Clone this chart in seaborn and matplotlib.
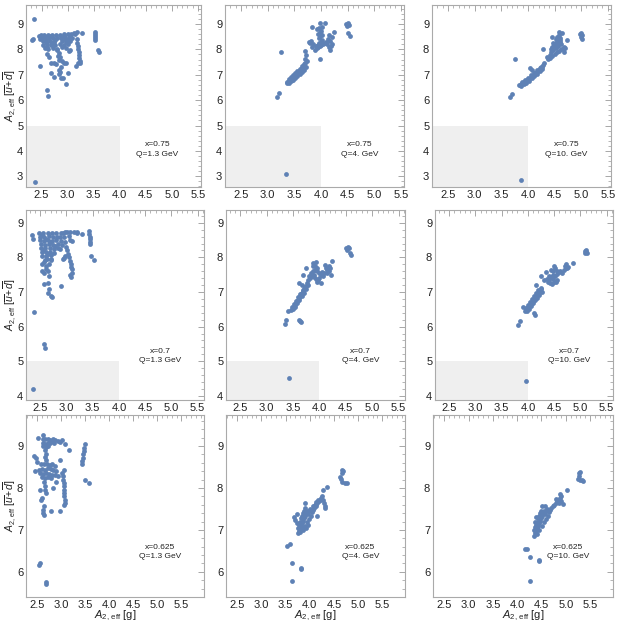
import pandas as pd
import seaborn as sns
import matplotlib.pyplot as plt
from matplotlib.patches import Rectangle
from matplotlib.ticker import MultipleLocator

# points: (A2,eff[g], A2,eff[ubar+dbar])
pts_075_13 = [
    (2.36, 9.20), (2.33, 8.40), (2.31, 8.37),
    (2.48, 8.58), (2.55, 8.58), (2.62, 8.58), (2.70, 8.58), (2.78, 8.58),
    (2.50, 8.45), (2.57, 8.47), (2.64, 8.44), (2.72, 8.46), (2.79, 8.45),
    (2.52, 8.32), (2.59, 8.30), (2.66, 8.33), (2.74, 8.31),
    (2.53, 8.18), (2.61, 8.20), (2.68, 8.17), (2.76, 8.19),
    (2.56, 8.05), (2.63, 8.02), (2.71, 8.06), (2.79, 8.00), (2.45, 8.52), (2.47, 8.40),
    (2.51, 8.52), (2.59, 8.38), (2.68, 8.52), (2.75, 8.39), (2.60, 8.10), (2.70, 8.25),
    (2.86, 8.58), (2.93, 8.59), (3.00, 8.60), (3.07, 8.60), (3.14, 8.62), (3.18, 8.68), (3.12, 8.66),
    (2.88, 8.46), (2.95, 8.47), (3.02, 8.45), (3.09, 8.44),
    (2.90, 8.33), (2.97, 8.30), (3.04, 8.34),
    (2.86, 8.20), (2.93, 8.18), (3.00, 8.22), (2.89, 8.08), (2.96, 8.04),
    (2.92, 8.52), (3.05, 8.53), (2.94, 8.40), (2.99, 8.38),
    (3.17, 8.40), (3.18, 8.26), (3.19, 8.14), (3.20, 8.02), (3.21, 7.90), (3.22, 7.78),
    (3.22, 7.66), (3.23, 7.55), (3.24, 7.45), (3.27, 8.63),
    (3.52, 8.67), (3.52, 8.60), (3.53, 8.53), (3.53, 8.46), (3.53, 8.38), (3.58, 7.98), (3.60, 7.88),
    (2.46, 7.33), (2.68, 7.07), (2.74, 6.93), (2.61, 6.41), (2.62, 6.18), (2.64, 7.70),
    (2.68, 7.46), (2.74, 7.46), (2.77, 7.43), (2.83, 7.20), (2.86, 7.13), (2.88, 6.87),
    (2.91, 6.86), (2.97, 6.65), (3.00, 7.07), (2.86, 7.72), (2.90, 7.56), (2.93, 7.46),
    (2.96, 7.46), (2.83, 7.59), (3.02, 7.92), (3.05, 7.98), (3.16, 7.33), (3.20, 7.46),
    (2.80, 7.98), (2.83, 7.85), (2.81, 7.75), (2.60, 7.80), (2.88, 7.30), (2.84, 7.05),
    (2.37, 2.78),
]
pts_075_4 = [
    (3.17, 6.12), (3.22, 6.29), (3.25, 7.89),
    (3.37, 6.68), (3.39, 6.72), (3.41, 6.76), (3.43, 6.80), (3.45, 6.84), (3.47, 6.88),
    (3.49, 6.92), (3.51, 6.96), (3.53, 7.00), (3.55, 7.04), (3.57, 7.08), (3.59, 7.12),
    (3.61, 7.17), (3.63, 7.22), (3.65, 7.28), (3.67, 7.34), (3.69, 7.40), (3.71, 7.47), (3.73, 7.53),
    (3.40, 6.68), (3.44, 6.75), (3.48, 6.80), (3.52, 6.87), (3.56, 6.94), (3.60, 7.02),
    (3.64, 7.10), (3.68, 7.20), (3.72, 7.30),
    (3.36, 6.72), (3.40, 6.82), (3.44, 6.90), (3.48, 6.98), (3.52, 7.06), (3.56, 7.14),
    (3.60, 7.24), (3.64, 7.34), (3.68, 7.44),
    (3.71, 7.62), (3.72, 7.78), (3.71, 7.93),
    (3.83, 8.09), (3.86, 8.20), (3.78, 8.30), (3.81, 8.35),
    (3.88, 7.98), (3.92, 8.05), (3.95, 8.10), (3.98, 8.14), (4.01, 8.18), (4.04, 8.22),
    (4.07, 8.26), (3.90, 8.12), (3.94, 8.18), (3.97, 8.24), (4.00, 8.30), (4.03, 8.36),
    (3.96, 8.45), (3.99, 8.52), (4.02, 8.56), (3.95, 8.62), (3.98, 8.68), (4.00, 8.74),
    (3.93, 8.80), (3.96, 8.86), (3.99, 9.05), (4.08, 9.03), (4.02, 8.89), (3.83, 8.89), (3.80, 8.25),
    (3.99, 7.63),
    (4.21, 8.49), (4.21, 8.23), (4.18, 7.96), (4.15, 8.09), (4.13, 8.40), (4.15, 8.55),
    (4.10, 8.30), (4.17, 8.35), (4.24, 8.69), (4.19, 8.15), (4.12, 8.20),
    (4.48, 9.00), (4.50, 9.03), (4.52, 8.98), (4.49, 8.92), (4.51, 8.63), (4.54, 8.52),
    (3.34, 3.08),
]
pts_075_10 = [
    (3.66, 6.12), (3.71, 6.25), (3.75, 7.61),
    (3.84, 6.58), (3.87, 6.62), (3.90, 6.66), (3.93, 6.70), (3.96, 6.75), (3.99, 6.80),
    (4.02, 6.85), (4.05, 6.90), (4.08, 6.95), (4.11, 7.00), (4.14, 7.06), (4.17, 7.12),
    (4.20, 7.18), (4.23, 7.25), (4.26, 7.32), (4.28, 7.40), (4.30, 7.48),
    (3.87, 6.56), (3.92, 6.62), (3.97, 6.69), (4.02, 6.77), (4.07, 6.86), (4.12, 6.95),
    (4.17, 7.04), (4.22, 7.14), (4.27, 7.24),
    (3.88, 6.70), (3.94, 6.78), (4.00, 6.88), (4.06, 6.98), (4.12, 7.08), (4.18, 7.20), (4.24, 7.30),
    (4.04, 7.26), (4.07, 7.19), (4.29, 8.00), (4.36, 7.72), (4.42, 7.78),
    (4.38, 7.62), (4.42, 7.68), (4.46, 7.75), (4.50, 7.82), (4.54, 7.88), (4.58, 7.95),
    (4.62, 8.02), (4.44, 7.90), (4.48, 7.98), (4.52, 8.05), (4.56, 8.12), (4.45, 8.10),
    (4.49, 8.18), (4.53, 8.25), (4.57, 8.30), (4.61, 8.36), (4.48, 8.24), (4.55, 8.31),
    (4.61, 8.31), (4.67, 8.11), (4.67, 7.91), (4.74, 8.37), (4.55, 8.50), (4.45, 8.50),
    (4.58, 8.67), (4.64, 8.63), (4.60, 8.45), (4.52, 8.40), (4.58, 8.58), (4.62, 8.20),
    (4.70, 8.05), (4.66, 8.00), (4.44, 8.00),
    (4.98, 8.62), (5.00, 8.64), (5.01, 8.58), (5.00, 8.50), (5.02, 8.42),
    (3.87, 2.87),
]
pts_07_13 = [
    (2.34, 8.66), (2.36, 8.52),
    (2.48, 8.70), (2.56, 8.71), (2.64, 8.70), (2.72, 8.71), (2.80, 8.70),
    (2.50, 8.60), (2.58, 8.58), (2.66, 8.61), (2.74, 8.59), (2.82, 8.60),
    (2.49, 8.49), (2.57, 8.48), (2.65, 8.50), (2.73, 8.47), (2.81, 8.49),
    (2.51, 8.38), (2.59, 8.36), (2.67, 8.39), (2.75, 8.37), (2.83, 8.38),
    (2.52, 8.27), (2.60, 8.26), (2.68, 8.28), (2.76, 8.25), (2.84, 8.27),
    (2.53, 8.16), (2.61, 8.15), (2.69, 8.17), (2.77, 8.14),
    (2.54, 8.05), (2.62, 8.04), (2.70, 8.06), (2.63, 7.95), (2.71, 7.96),
    (2.53, 8.64), (2.61, 8.54), (2.69, 8.44), (2.78, 8.32), (2.56, 8.21), (2.64, 8.10),
    (2.90, 8.71), (2.98, 8.72), (3.06, 8.73), (3.14, 8.74), (3.20, 8.72), (2.94, 8.70), (3.02, 8.74),
    (2.88, 8.60), (2.96, 8.58), (3.04, 8.62), (2.90, 8.48), (2.98, 8.45), (3.06, 8.50),
    (2.92, 8.35), (3.00, 8.30), (2.88, 8.25),
    (2.98, 8.04), (2.94, 7.95), (2.96, 7.98),
    (3.02, 8.20), (3.03, 8.10), (3.05, 8.00), (3.06, 7.90), (3.08, 7.80), (3.09, 7.72),
    (3.10, 7.66), (3.08, 7.42), (3.11, 7.56), (3.07, 7.48),
    (3.11, 8.47), (3.20, 8.71), (3.29, 8.69),
    (3.43, 8.76), (3.43, 8.68), (3.44, 8.60), (3.44, 8.52), (3.45, 8.45), (3.45, 8.38),
    (3.46, 8.04), (3.53, 7.93),
    (2.53, 7.61), (2.58, 7.56), (2.64, 7.61), (2.67, 7.47), (2.64, 7.26), (2.58, 7.22),
    (2.67, 7.08), (2.64, 6.97), (2.70, 6.89), (2.73, 6.85), (2.61, 7.66), (2.58, 7.87),
    (2.53, 7.80), (2.62, 7.75), (2.66, 7.82), (2.70, 7.92), (2.60, 7.92),
    (2.90, 7.18), (2.39, 6.41), (2.58, 5.50), (2.59, 5.39), (2.36, 4.19),
]
pts_07_4 = [
    (3.35, 6.07), (3.37, 6.19), (3.41, 6.45), (3.62, 6.19), (3.65, 6.12), (3.63, 6.15),
    (3.47, 6.48), (3.49, 6.53), (3.51, 6.58), (3.53, 6.63), (3.55, 6.68), (3.57, 6.73),
    (3.59, 6.78), (3.61, 6.83), (3.63, 6.88), (3.65, 6.93), (3.67, 6.98), (3.69, 7.03),
    (3.71, 7.08), (3.73, 7.13), (3.75, 7.18),
    (3.50, 6.50), (3.54, 6.58), (3.58, 6.68), (3.62, 6.78), (3.66, 6.88), (3.70, 6.98), (3.74, 7.08),
    (3.48, 6.56), (3.52, 6.65), (3.56, 6.75), (3.60, 6.85), (3.64, 6.95), (3.68, 7.05), (3.72, 7.15),
    (3.62, 7.25), (3.69, 7.50), (3.66, 7.20),
    (3.74, 7.69), (3.87, 7.74), (3.87, 7.83), (3.93, 7.86), (3.90, 7.50), (3.80, 7.45),
    (4.03, 7.25), (3.96, 7.30), (4.06, 7.45), (4.12, 7.70), (4.18, 7.76), (4.23, 7.90),
    (4.21, 7.50), (4.15, 7.64), (4.09, 7.54), (4.11, 7.79),
    (3.82, 7.40), (3.86, 7.45), (3.90, 7.42), (3.94, 7.38), (3.98, 7.35), (3.84, 7.55),
    (3.88, 7.60), (3.92, 7.65), (3.96, 7.70), (3.91, 7.75), (3.95, 7.60), (3.99, 7.55),
    (4.02, 7.50), (4.00, 7.40), (3.78, 7.35), (3.76, 7.25), (3.79, 7.20), (4.05, 7.58),
    (4.14, 7.55), (4.18, 7.62), (4.20, 7.68),
    (4.50, 8.27), (4.54, 8.31), (4.56, 8.27), (4.58, 8.12), (4.60, 8.07), (4.53, 8.22),
    (3.43, 4.51),
]
pts_07_10 = [
    (3.82, 6.04), (3.84, 6.16), (3.90, 6.57),
    (3.95, 6.46), (3.97, 6.50), (3.99, 6.54), (4.01, 6.58), (4.03, 6.62), (4.05, 6.66),
    (4.07, 6.70), (4.09, 6.74), (4.11, 6.78), (4.13, 6.82), (4.15, 6.86), (4.17, 6.90),
    (4.19, 6.94), (4.21, 6.98), (4.23, 7.03), (4.25, 7.08),
    (3.98, 6.45), (4.02, 6.52), (4.06, 6.60), (4.10, 6.68), (4.14, 6.76), (4.18, 6.84),
    (4.22, 6.92), (4.26, 7.00),
    (3.96, 6.55), (4.00, 6.63), (4.04, 6.71), (4.08, 6.80), (4.12, 6.88), (4.16, 6.96),
    (4.20, 7.05), (4.24, 7.12),
    (4.16, 7.20), (4.25, 7.45), (4.31, 7.35), (4.34, 7.59),
    (4.44, 7.64), (4.47, 7.50), (4.41, 7.35), (4.50, 7.74), (4.53, 7.30), (4.59, 7.59),
    (4.38, 7.28), (4.42, 7.25), (4.46, 7.22), (4.50, 7.28), (4.56, 7.36), (4.44, 7.42),
    (4.48, 7.38), (4.52, 7.45), (4.56, 7.52), (4.48, 7.62), (4.52, 7.68), (4.55, 7.60),
    (4.40, 7.45), (4.36, 7.38),
    (4.62, 7.60), (4.68, 7.65), (4.72, 7.70), (4.70, 7.75), (4.74, 7.68), (4.76, 7.72),
    (4.72, 7.81), (4.65, 7.55), (4.85, 7.83),
    (5.08, 8.18), (5.10, 8.20), (5.11, 8.15), (5.12, 8.12), (5.09, 8.14),
    (4.12, 6.38), (4.14, 6.35), (3.96, 4.42),
]
pts_0625_13 = [
    (2.43, 8.76), (2.47, 8.72), (2.45, 8.41), (2.50, 8.63), (2.52, 9.20), (2.62, 9.26),
    (2.62, 9.16), (2.67, 9.17), (2.72, 9.16), (2.77, 9.15), (2.62, 9.08), (2.67, 9.06),
    (2.72, 9.08), (2.77, 9.07), (2.63, 9.00), (2.68, 8.98), (2.73, 9.00), (2.78, 9.12),
    (2.83, 9.16), (2.88, 9.14), (2.93, 9.12), (2.98, 9.10), (3.02, 9.14), (3.09, 9.06),
    (3.16, 8.90), (2.85, 9.08),
    (2.58, 8.58), (2.64, 8.56), (2.70, 8.58), (2.76, 8.55), (2.82, 8.57), (2.88, 8.52),
    (2.60, 8.46), (2.66, 8.44), (2.72, 8.47), (2.78, 8.45), (2.84, 8.43), (2.90, 8.40),
    (2.57, 8.35), (2.63, 8.33), (2.69, 8.36), (2.75, 8.34), (2.81, 8.32), (2.87, 8.30),
    (2.93, 8.28), (2.60, 8.25), (2.66, 8.23), (2.72, 8.26), (2.78, 8.24), (2.55, 8.42),
    (2.66, 8.90), (2.68, 8.82), (2.66, 8.74), (2.69, 8.66),
    (2.65, 8.14), (2.66, 8.05), (2.67, 7.96), (2.68, 7.87),
    (2.57, 7.95), (2.60, 7.76), (2.59, 7.72), (2.64, 7.56), (2.62, 7.48), (2.64, 7.36), (2.62, 7.40),
    (2.98, 8.67), (3.05, 8.43),
    (3.02, 8.36), (3.03, 8.28), (3.04, 8.20), (3.05, 8.12), (3.06, 8.04), (3.06, 7.96),
    (3.07, 7.88), (3.07, 7.80), (3.08, 7.72), (3.08, 7.64), (3.07, 7.60),
    (2.98, 7.44), (2.78, 7.44),
    (3.43, 8.56), (3.44, 8.64), (3.45, 8.72), (3.46, 8.80), (3.47, 8.88), (3.48, 8.96),
    (3.49, 9.04), (3.49, 8.19), (3.57, 8.11),
    (2.84, 8.00), (2.89, 8.15),
    (2.53, 6.17), (2.57, 6.20), (2.69, 5.75), (2.69, 5.72),
]
pts_0625_4 = [
    (3.54, 6.62), (3.59, 6.67), (3.64, 6.20), (3.64, 5.78), (3.83, 6.07), (3.82, 6.09),
    (3.69, 7.24), (3.68, 7.31), (3.73, 7.16), (3.73, 7.38),
    (3.76, 6.92), (3.78, 6.98), (3.80, 7.04), (3.76, 7.05), (3.82, 7.10), (3.78, 7.12),
    (3.84, 7.16), (3.80, 7.20), (3.86, 7.22), (3.82, 7.28), (3.88, 7.28), (3.84, 7.34),
    (3.90, 7.34), (3.86, 7.40), (3.92, 7.40), (3.88, 7.46), (3.94, 7.46), (3.96, 7.38),
    (3.98, 7.44), (4.00, 7.50), (3.90, 7.10), (3.94, 7.18), (3.98, 7.26), (4.02, 7.34),
    (3.86, 7.00), (3.92, 7.05), (3.80, 6.95), (3.85, 7.08), (4.04, 7.42), (4.06, 7.48),
    (3.96, 7.12), (3.90, 7.52),
    (4.08, 7.52), (4.10, 7.56), (4.12, 7.58), (4.14, 7.62), (4.16, 7.64), (4.18, 7.68),
    (4.20, 7.70), (4.22, 7.72), (4.24, 7.75), (4.06, 7.56), (4.10, 7.60), (4.14, 7.66),
    (4.18, 7.72), (4.25, 7.81), (4.28, 7.72), (4.35, 8.02), (4.28, 7.95), (4.30, 7.65),
    (4.32, 7.58), (4.32, 7.52),
    (3.90, 7.64), (4.15, 7.34),
    (4.67, 8.43), (4.66, 8.35), (4.63, 8.27), (4.66, 8.15), (4.74, 8.13), (4.77, 8.11),
    (4.65, 8.22), (4.68, 8.40),
]
pts_0625_10 = [
    (4.17, 6.55), (4.20, 6.55), (4.27, 6.35), (4.44, 6.28), (4.45, 6.26), (4.27, 5.78),
    (4.35, 6.86), (4.37, 6.92), (4.39, 6.98), (4.35, 7.00), (4.41, 7.04), (4.37, 7.06),
    (4.43, 7.10), (4.39, 7.12), (4.45, 7.16), (4.41, 7.20), (4.47, 7.22), (4.43, 7.28),
    (4.49, 7.28), (4.45, 7.34), (4.51, 7.34), (4.47, 7.40), (4.53, 7.40), (4.49, 7.46),
    (4.55, 7.46), (4.57, 7.38), (4.59, 7.44), (4.61, 7.50), (4.51, 7.10), (4.55, 7.18),
    (4.59, 7.26), (4.63, 7.34), (4.45, 7.00), (4.40, 6.90), (4.65, 7.42), (4.67, 7.48),
    (4.36, 7.20), (4.38, 7.30), (4.52, 7.58),
    (4.70, 7.52), (4.73, 7.56), (4.76, 7.60), (4.79, 7.64), (4.82, 7.68), (4.85, 7.72),
    (4.88, 7.76), (4.91, 7.80), (4.86, 7.65), (4.90, 7.70), (4.80, 7.74), (4.88, 7.85),
    (4.94, 7.62), (5.03, 7.96), (4.58, 7.56),
    (5.28, 8.35), (5.29, 8.38), (5.27, 8.28), (5.30, 8.20), (5.33, 8.18), (5.36, 8.17), (5.26, 8.22),
]

panel_points = [pts_075_13, pts_075_4, pts_075_10,
                pts_07_13, pts_07_4, pts_07_10,
                pts_0625_13, pts_0625_4, pts_0625_10]
x_values = ["0.75", "0.7", "0.625"]
q_values = ["1.3", "4.", "10."]

BLUE = "#5E81B5"
W = H = 623

# pixel boxes (left, top, right, bottom) of each frame
boxes = [
    [(26, 5, 201, 187), (225, 5, 404, 187), (432, 5, 611, 187)],
    [(26, 210, 204, 400), (226, 210, 405, 400), (435, 210, 613, 400)],
    [(26, 415, 204, 597), (226, 415, 405, 597), (433, 415, 613, 597)],
]
xlims = [(2.2, 5.56), (2.23, 5.62), (2.27, 5.97)]
ylims = [(2.58, 9.75), (3.88, 9.37), (5.4, 9.74)]
label_pos = [(4.72, 4.05), (4.78, 5.15), (5.05, 6.47)]

sns.set_style("white")
plt.rcParams['font.family'] = ['Liberation Sans', 'DejaVu Sans']
plt.rcParams['mathtext.fontset'] = 'custom'
plt.rcParams['mathtext.rm'] = 'Liberation Sans'
plt.rcParams['mathtext.it'] = 'Liberation Sans:italic'

fig = plt.figure(figsize=(6.23, 6.23), dpi=100)

for r in range(3):
    for c in range(3):
        l, t, rr, b = boxes[r][c]
        ax = fig.add_axes([l / W, 1 - b / H, (rr - l) / W, (b - t) / H])
        df = pd.DataFrame(panel_points[3 * r + c], columns=["g", "ud"])
        x0, x1 = xlims[r]
        y0, y1 = ylims[r]
        if r < 2:
            ax.add_patch(Rectangle((x0, y0), 4.0 - x0, 5.0 - y0,
                                   facecolor="#efefef", edgecolor="none", zorder=0))
        sns.scatterplot(data=df, x="g", y="ud", ax=ax, color=BLUE, s=12,
                        linewidth=0, zorder=3)
        ax.set_xlim(x0, x1)
        ax.set_ylim(y0, y1)
        ax.xaxis.set_major_locator(MultipleLocator(0.5))
        ax.xaxis.set_minor_locator(MultipleLocator(0.1))
        ax.yaxis.set_major_locator(MultipleLocator(1))
        ax.yaxis.set_minor_locator(MultipleLocator(0.2))
        ax.tick_params(which="both", direction="in", top=True, right=True,
                       color="#999999", labelsize=8, pad=2, labelcolor="#222222")
        ax.tick_params(which="major", length=4, width=0.6)
        ax.tick_params(which="minor", length=2, width=0.5)
        for sp in ax.spines.values():
            sp.set_color("#aaaaaa")
            sp.set_linewidth(0.8)
        ax.set_xlabel("")
        ax.set_ylabel("")
        tx, ty = label_pos[r]
        ax.text(tx, ty, f"x={x_values[r]}\nQ={q_values[c]} GeV", ha="center",
                va="center", fontsize=6, linespacing=1.5, color="#222222")
        if c == 0:
            ax.set_ylabel(r"$A_{2,\,\mathrm{eff}}\ [\overline{u}\!+\!\overline{d}]$",
                          fontsize=7.5, color="#222222")
            ax.yaxis.set_label_coords(-0.045, 0.5)
        if r == 2:
            ax.set_xlabel(r"$A_{2,\,\mathrm{eff}}$ [g]", fontsize=8, color="#222222")
            ax.xaxis.set_label_coords(0.5, -0.065)

fig.savefig("out.png", dpi=100)
